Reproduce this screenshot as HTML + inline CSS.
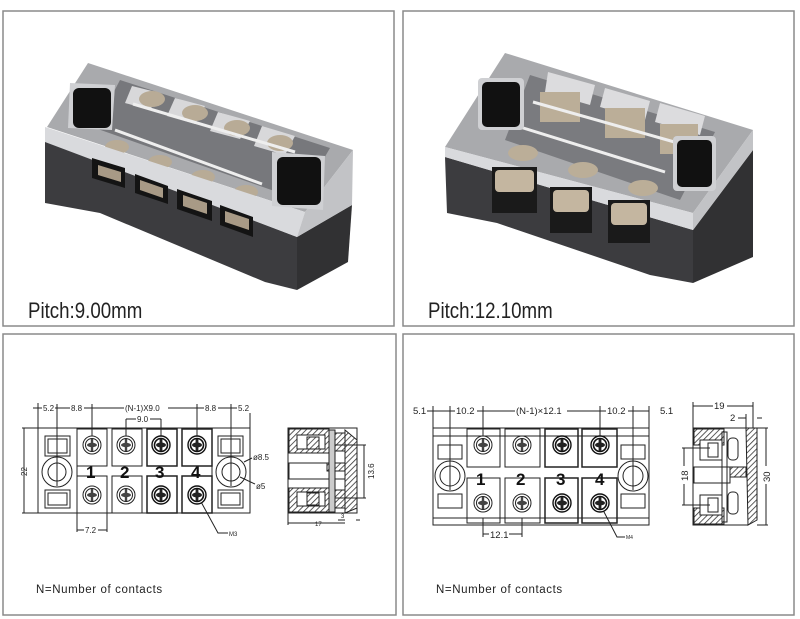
<!DOCTYPE html>
<html><head><meta charset="utf-8"><style>
html,body{margin:0;padding:0;background:#fff;}
svg{display:block;}
.t{font-family:"Liberation Sans",sans-serif;}
</style></head><body>
<svg width="800" height="619" viewBox="0 0 800 619" xmlns="http://www.w3.org/2000/svg">
<defs>
<pattern id="h" width="4" height="4" patternUnits="userSpaceOnUse" patternTransform="rotate(45)"><rect width="4" height="4" fill="#fff"/><line x1="0" y1="0" x2="0" y2="4" stroke="#333" stroke-width="1.6"/></pattern>
<g id="sc"><circle r="9" fill="#fff" stroke="#222" stroke-width="1"/><circle r="6.5" fill="none" stroke="#222" stroke-width="1"/><ellipse rx="5" ry="2.2" fill="#444"/><rect x="-1.2" y="-6" width="2.4" height="12" fill="#444"/></g>
<g id="scd"><circle r="9" fill="#fff" stroke="#111" stroke-width="1.4"/><circle r="6.5" fill="none" stroke="#111" stroke-width="1.6"/><ellipse rx="5" ry="2.5" fill="#222"/><rect x="-1.4" y="-6" width="2.8" height="12" fill="#222"/></g>
</defs>
<rect width="800" height="619" fill="#fff"/>
<g fill="none" stroke="#8a8a8a" stroke-width="1.5">
<rect x="3" y="11" width="391" height="315"/>
<rect x="403" y="11" width="391" height="315"/>
<rect x="3" y="334" width="393" height="281"/>
<rect x="403" y="334" width="391" height="281"/>
</g>

<!-- TOP LEFT PHOTO -->
<polygon points="45,140 297,237 297,290 265,282 100,213 45,203" fill="#3c3c3f"/>
<polygon points="297,237 352,205 348,262 297,290" fill="#313133"/>
<polygon points="47,127 88,63 353,150 305,212" fill="#a9aaad"/>
<polygon points="120,80 330,148 300,200 95,128" fill="#77787c"/>
<g fill="#d8d8da"><polygon points="132,86 160,93 150,110 125,103"/><polygon points="175,98 205,106 195,124 167,116"/><polygon points="218,112 250,121 240,139 210,131"/><polygon points="262,126 295,136 285,155 254,146"/></g>
<g fill="#b8ab96"><ellipse cx="152" cy="99" rx="13" ry="8"/><ellipse cx="195" cy="113" rx="13" ry="8"/><ellipse cx="237" cy="128" rx="13" ry="8"/><ellipse cx="280" cy="143" rx="13" ry="8"/>
<ellipse cx="117" cy="147" rx="12" ry="7"/><ellipse cx="160" cy="162" rx="12" ry="7"/><ellipse cx="203" cy="177" rx="12" ry="7"/><ellipse cx="246" cy="192" rx="12" ry="7"/></g>
<g stroke="#eeeeee" stroke-width="3" fill="none"><line x1="133" y1="104" x2="295" y2="152"/><line x1="115" y1="130" x2="262" y2="184"/></g>
<polygon points="45,127 305,212 297,237 45,142" fill="#d9dadd"/>
<polygon points="305,212 353,150 352,205 297,237" fill="#c2c3c6"/>
<polygon points="70,83 115,85 112,130 68,128" fill="#cfd0d3"/>
<rect x="73" y="88" width="38" height="40" rx="6" fill="#111"/>
<polygon points="272,152 325,156 323,210 272,206" fill="#cfd0d3"/>
<rect x="277" y="157" width="44" height="48" rx="6" fill="#111"/>
<g fill="#141414"><polygon points="92,158 125,168 125,188 92,178"/><polygon points="135,174 168,186 168,204 135,193"/><polygon points="177,189 212,201 212,221 177,209"/><polygon points="220,205 253,217 253,237 220,225"/></g>
<g fill="#a89a86"><polygon points="98,165 121,172 121,182 98,175"/><polygon points="140,180 163,188 163,198 140,190"/><polygon points="183,195 207,203 207,214 183,206"/><polygon points="225,211 249,219 249,230 225,222"/></g>
<text class="t" x="28" y="318" font-size="22" fill="#222" transform="translate(28 0) scale(0.85 1) translate(-28 0)">Pitch:9.00mm</text>

<!-- TOP RIGHT PHOTO -->
<polygon points="445,157 693,230 693,283 650,275 497,223 447,213" fill="#3c3c3f"/>
<polygon points="693,230 753,150 753,257 693,283" fill="#313133"/>
<polygon points="445,147 505,53 753,130 693,213" fill="#a9aaad"/>
<polygon points="530,75 715,132 680,200 505,140" fill="#7a7b7f"/>
<g fill="#dcdcde"><polygon points="548,72 595,85 590,105 545,92"/><polygon points="605,88 650,101 645,120 600,107"/><polygon points="660,103 705,116 700,135 655,122"/></g>
<g fill="#bbae98"><rect x="540" y="92" width="40" height="30"/><rect x="605" y="108" width="40" height="30"/><rect x="660" y="124" width="38" height="30"/>
<ellipse cx="523" cy="153" rx="15" ry="8"/><ellipse cx="583" cy="170" rx="15" ry="8"/><ellipse cx="643" cy="188" rx="15" ry="8"/></g>
<g stroke="#eeeeee" stroke-width="3" fill="none"><line x1="533" y1="102" x2="685" y2="145"/><line x1="520" y1="127" x2="665" y2="172"/></g>
<polygon points="445,147 693,213 693,230 445,157" fill="#d9dadd"/>
<polygon points="693,213 753,130 753,150 693,230" fill="#c2c3c6"/>
<rect x="478" y="78" width="46" height="52" rx="4" fill="#cfd0d3"/>
<rect x="482" y="82" width="38" height="45" rx="5" fill="#111"/>
<rect x="673" y="136" width="43" height="55" rx="4" fill="#cfd0d3"/>
<rect x="677" y="140" width="35" height="47" rx="5" fill="#111"/>
<g fill="#1a1a1a"><rect x="492" y="167" width="45" height="46"/><rect x="550" y="187" width="42" height="46"/><rect x="608" y="200" width="42" height="43"/></g>
<g fill="#c4b6a0"><rect x="495" y="170" width="39" height="22" rx="4"/><rect x="553" y="190" width="36" height="22" rx="4"/><rect x="611" y="203" width="36" height="22" rx="4"/></g>
<text class="t" x="428" y="318" font-size="22" fill="#222" transform="translate(428 0) scale(0.85 1) translate(-428 0)">Pitch:12.10mm</text>

<!-- BOTTOM LEFT DRAWING -->
<g stroke="#222" stroke-width="1" fill="none">
<rect x="38" y="428" width="212" height="85" fill="#fff"/>
<rect x="77" y="429" width="30" height="37"/><rect x="112" y="429" width="30" height="37"/><rect x="147" y="429" width="30" height="37" stroke-width="1.5"/><rect x="182" y="429" width="30" height="37" stroke-width="1.5"/>
<rect x="77" y="476" width="30" height="37"/><rect x="112" y="476" width="30" height="37"/><rect x="147" y="476" width="30" height="37" stroke-width="1.5"/><rect x="182" y="476" width="30" height="37" stroke-width="1.5"/>
<line x1="77" y1="428" x2="77" y2="513"/><line x1="212" y1="428" x2="212" y2="513"/>
<rect x="45" y="436" width="25" height="20"/><rect x="48" y="439" width="19" height="14"/>
<rect x="45" y="490" width="25" height="18"/><rect x="48" y="493" width="19" height="12"/>
<rect x="218" y="436" width="25" height="20"/><rect x="221" y="439" width="19" height="14"/>
<rect x="218" y="490" width="25" height="18"/><rect x="221" y="493" width="19" height="12"/>
<circle cx="57" cy="472" r="15"/><circle cx="57" cy="472" r="9"/>
<circle cx="231" cy="472" r="15"/><circle cx="231" cy="472" r="9"/>
<line x1="38" y1="408" x2="250" y2="408"/><line x1="33" y1="408" x2="38" y2="408"/>
<line x1="38" y1="403" x2="38" y2="428"/><line x1="57" y1="404" x2="57" y2="486"/><line x1="92" y1="404" x2="92" y2="440"/><line x1="197" y1="404" x2="197" y2="440"/><line x1="231" y1="404" x2="231" y2="486"/><line x1="250" y1="403" x2="250" y2="428"/>
<line x1="126" y1="419" x2="161" y2="419"/><line x1="126" y1="419" x2="126" y2="440"/><line x1="161" y1="419" x2="161" y2="440"/>
<line x1="22" y1="428" x2="38" y2="428"/><line x1="22" y1="513" x2="38" y2="513"/><line x1="24" y1="428" x2="24" y2="513"/>
<line x1="77" y1="530" x2="107" y2="530"/><line x1="77" y1="513" x2="77" y2="532"/><line x1="107" y1="513" x2="107" y2="532"/>
<polyline points="200,500 218,533 228,533"/>
<line x1="244" y1="462" x2="252" y2="458"/><line x1="240" y1="477" x2="255" y2="484"/>
<rect x="288" y="428" width="69" height="85" fill="#fff"/>
<rect x="289" y="429" width="40" height="24" fill="url(#h)"/><rect x="289" y="488" width="40" height="24" fill="url(#h)"/>
<rect x="297" y="435" width="28" height="14" fill="#fff"/><rect x="297" y="492" width="28" height="14" fill="#fff"/>
<rect x="307" y="437" width="12" height="12" fill="url(#h)"/><rect x="307" y="493" width="12" height="12" fill="url(#h)"/>
<rect x="289" y="463" width="56" height="16" fill="#fff"/><rect x="327" y="463" width="18" height="8" fill="url(#h)"/>
<rect x="329" y="430" width="6" height="82" fill="#ccc"/>
<rect x="335" y="433" width="12" height="18" fill="url(#h)"/><rect x="335" y="490" width="12" height="18" fill="url(#h)"/>
<polygon points="345,430 357,440 357,508 345,513" fill="url(#h)"/>
<line x1="335" y1="445" x2="366" y2="445"/><line x1="335" y1="498" x2="366" y2="498"/><line x1="364" y1="445" x2="364" y2="498"/>
<line x1="288" y1="523" x2="345" y2="523"/><line x1="288" y1="513" x2="288" y2="525"/>
<line x1="338" y1="520" x2="345" y2="520"/><line x1="356" y1="520" x2="360" y2="520"/>
</g>
<g stroke="none"><use href="#sc" x="92" y="445"/><use href="#sc" x="126" y="445"/><use href="#scd" x="161" y="445"/><use href="#scd" x="197" y="445"/>
<use href="#sc" x="92" y="495"/><use href="#sc" x="126" y="495"/><use href="#scd" x="161" y="495"/><use href="#scd" x="197" y="495"/></g>
<g class="t" font-size="8" fill="#222">
<rect x="42" y="403" width="13" height="10" fill="#fff"/><text x="43" y="411">5.2</text>
<rect x="70" y="403" width="14" height="10" fill="#fff"/><text x="71" y="411">8.8</text>
<rect x="124" y="403" width="44" height="10" fill="#fff"/><text x="125" y="411">(N-1)X9.0</text>
<rect x="204" y="403" width="14" height="10" fill="#fff"/><text x="205" y="411">8.8</text>
<rect x="237" y="403" width="14" height="10" fill="#fff"/><text x="238" y="411">5.2</text>
<rect x="136" y="414" width="14" height="10" fill="#fff"/><text x="137" y="422">9.0</text>
<rect x="84" y="525" width="14" height="10" fill="#fff"/><text x="85" y="533">7.2</text>
<text x="229" y="536" font-size="6">M3</text>
<text x="253" y="460">ø8.5</text><text x="256" y="489">ø5</text>
<text x="0" y="0" transform="translate(27 476) rotate(-90)">22</text>
<text x="0" y="0" transform="translate(374 479) rotate(-90)">13.6</text>
<text x="315" y="526" font-size="6">17</text><text x="341" y="518" font-size="6">3</text>
</g>
<g class="t" font-size="17" font-weight="bold" fill="#111"><text x="86" y="478">1</text><text x="120" y="478">2</text><text x="155" y="478">3</text><text x="191" y="478">4</text></g>
<text class="t" x="36" y="593" font-size="11.5" fill="#222" letter-spacing="0.6">N=Number of contacts</text>

<!-- BOTTOM RIGHT DRAWING -->
<g stroke="#222" stroke-width="1" fill="none">
<rect x="433" y="428" width="216" height="97" fill="#fff"/>
<line x1="433" y1="436" x2="649" y2="436"/><line x1="433" y1="518" x2="649" y2="518"/>
<rect x="467" y="429" width="33" height="38"/><rect x="505" y="429" width="35" height="38"/><rect x="545" y="429" width="33" height="38" stroke-width="1.5"/><rect x="582" y="429" width="35" height="38" stroke-width="1.5"/>
<rect x="467" y="478" width="33" height="45"/><rect x="505" y="478" width="35" height="45"/><rect x="545" y="478" width="33" height="45" stroke-width="1.5"/><rect x="582" y="478" width="35" height="45" stroke-width="1.5"/>
<rect x="438" y="445" width="24" height="14"/><rect x="438" y="494" width="24" height="14"/>
<rect x="621" y="445" width="24" height="14"/><rect x="621" y="494" width="24" height="14"/>
<circle cx="450" cy="476" r="15"/><circle cx="450" cy="476" r="10"/>
<circle cx="633" cy="476" r="15"/><circle cx="633" cy="476" r="10"/>
<line x1="433" y1="411" x2="649" y2="411"/><line x1="412" y1="411" x2="433" y2="411"/>
<line x1="433" y1="406" x2="433" y2="428"/><line x1="450" y1="406" x2="450" y2="490"/><line x1="483" y1="406" x2="483" y2="440"/><line x1="600" y1="406" x2="600" y2="440"/><line x1="633" y1="406" x2="633" y2="490"/><line x1="649" y1="406" x2="649" y2="428"/>
<line x1="483" y1="534" x2="522" y2="534"/><line x1="483" y1="518" x2="483" y2="537"/><line x1="522" y1="518" x2="522" y2="537"/>
<polyline points="603,510 617,537 625,537"/>
<rect x="693" y="428" width="55" height="97" fill="#fff"/>
<rect x="694" y="429" width="30" height="16" fill="url(#h)"/><rect x="694" y="508" width="30" height="16" fill="url(#h)"/>
<rect x="700" y="440" width="22" height="20" fill="#fff"/><rect x="700" y="495" width="22" height="20" fill="#fff"/>
<rect x="708" y="443" width="10" height="14" fill="#fff"/><rect x="708" y="498" width="10" height="14" fill="#fff"/>
<rect x="694" y="467" width="36" height="16" fill="#fff"/><rect x="730" y="467" width="16" height="10" fill="url(#h)"/>
<rect x="722" y="432" width="5" height="90"/>
<rect x="728" y="438" width="10" height="22" rx="4"/><rect x="728" y="492" width="10" height="22" rx="4"/>
<polygon points="746,428 757,428 757,520 748,525" fill="url(#h)"/>
<line x1="682" y1="448" x2="710" y2="448"/><line x1="682" y1="505" x2="710" y2="505"/><line x1="684" y1="448" x2="684" y2="505"/>
<line x1="757" y1="428" x2="768" y2="428"/><line x1="757" y1="525" x2="768" y2="525"/><line x1="766" y1="428" x2="766" y2="525"/>
<line x1="693" y1="406" x2="753" y2="406"/><line x1="693" y1="402" x2="693" y2="428"/><line x1="753" y1="402" x2="753" y2="428"/>
<line x1="738" y1="418" x2="746" y2="418"/><line x1="757" y1="418" x2="762" y2="418"/><line x1="746" y1="414" x2="746" y2="428"/>
</g>
<g stroke="none"><use href="#sc" x="483" y="445"/><use href="#sc" x="522" y="445"/><use href="#scd" x="562" y="445"/><use href="#scd" x="600" y="445"/>
<use href="#sc" x="483" y="503"/><use href="#sc" x="522" y="503"/><use href="#scd" x="562" y="503"/><use href="#scd" x="600" y="503"/></g>
<g class="t" font-size="9.5" fill="#222">
<rect x="412" y="405" width="15" height="11" fill="#fff"/><text x="413" y="414">5.1</text>
<rect x="455" y="405" width="22" height="11" fill="#fff"/><text x="456" y="414">10.2</text>
<rect x="515" y="405" width="52" height="11" fill="#fff"/><text x="516" y="414">(N-1)×12.1</text>
<rect x="606" y="405" width="22" height="11" fill="#fff"/><text x="607" y="414">10.2</text>
<rect x="659" y="405" width="15" height="11" fill="#fff"/><text x="660" y="414">5.1</text>
<rect x="489" y="529" width="20" height="11" fill="#fff"/><text x="490" y="538">12.1</text>
<text x="626" y="539" font-size="5">M4</text>
<rect x="713" y="400" width="14" height="11" fill="#fff"/><text x="714" y="409">19</text>
<text x="730" y="421">2</text>
<rect x="678" y="466" width="12" height="18" fill="#fff"/><text x="0" y="0" transform="translate(688 481) rotate(-90)">18</text>
<rect x="760" y="466" width="12" height="18" fill="#fff"/><text x="0" y="0" transform="translate(770 482) rotate(-90)">30</text>
</g>
<g class="t" font-size="17" font-weight="bold" fill="#111"><text x="476" y="485">1</text><text x="516" y="485">2</text><text x="556" y="485">3</text><text x="595" y="485">4</text></g>
<text class="t" x="436" y="593" font-size="11.5" fill="#222" letter-spacing="0.6">N=Number of contacts</text>
</svg>
</body></html>
